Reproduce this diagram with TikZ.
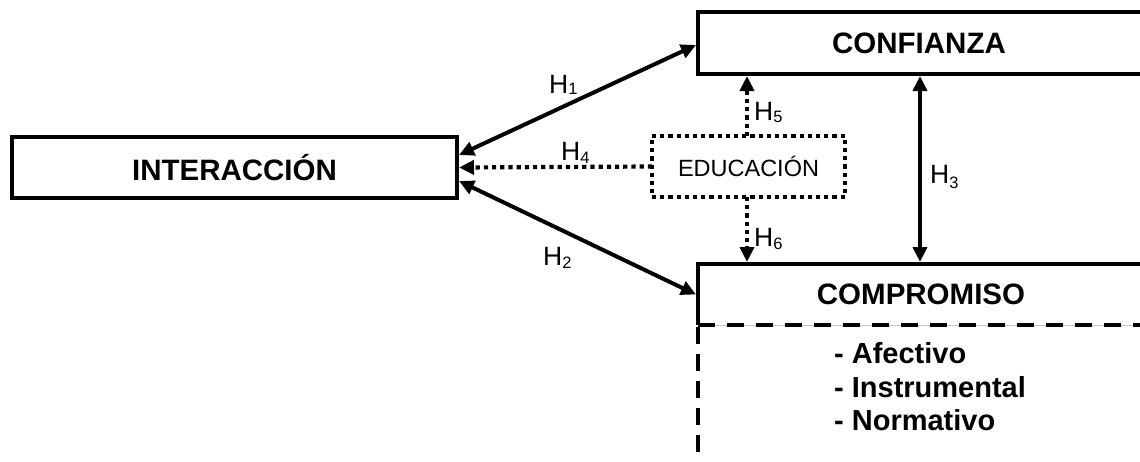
\documentclass[tikz,border=0pt]{standalone}
\usepackage{fontspec}
\setmainfont{Liberation Sans}
\usetikzlibrary{arrows.meta,calc}
\newcommand{\Hlab}[2][3pt]{H\raisebox{-#1}{\fontsize{16.5}{17}\selectfont #2}}
\begin{document}
\begin{tikzpicture}[x=1pt,y=-1pt,
  box/.style={inner sep=0pt,outer sep=0pt,font=\fontsize{29.5}{34}\selectfont\bfseries},
  edge/.style={line width=4pt},
  tip/.style={-{Triangle[length=15pt,width=14pt]}},
  both/.style={{Triangle[length=15pt,width=14pt]}-{Triangle[length=15pt,width=14pt]}},
  dots/.style={line width=4.2pt,dash pattern=on 4.2pt off 4pt},
  hlab/.style={anchor=base west,inner sep=0pt,font=\fontsize{26.5}{30}\selectfont},
  item/.style={anchor=base west,inner sep=0pt,font=\fontsize{29}{33}\selectfont\bfseries}
]
\useasboundingbox (0,0) rectangle (1140,461);
\begin{scope}
\clip (0,0) rectangle (1140,461);
% boxes
\node[box,draw,edge,minimum width=445pt,minimum height=61pt] (inter) at (234.5,167.5) {INTERACCIÓN};
\node[box,minimum width=442pt,minimum height=62pt] (conf) at (919,43) {CONFIANZA};
\node[box,minimum width=442pt,minimum height=61pt] (comp) at (919,294.5) {};
\node[box] (comptext) at (921,294.5) {COMPROMISO};
\node[inner sep=0pt,outer sep=0pt,draw,dots,minimum width=193pt,minimum height=61pt,font=\fontsize{23.5}{28}\selectfont] (edu) at (748.5,166.5) {EDUCACIÓN};
\draw[edge] ($(conf.north east)+(10,0)$) -- (conf.north west) -- (conf.south west) -- ($(conf.south east)+(10,0)$);
\draw[edge] ($(comp.north east)+(10,0)$) -- (comp.north west) -- (comp.south west);
\draw[gray!45,line width=0.6pt] (comp.south west) -- ($(comp.south east)+(10,0)$);
\draw[edge,dash pattern=on 17pt off 12pt] (comp.south west) -- ($(comp.south east)+(10,0)$);
\draw[edge,dash pattern=on 17pt off 10pt] ($(comp.south west)+(0,2)$) -- ++(0,128);
% list
\node[item] (li1) at (834,363) {- Afectivo};
\node[item] (li2) at (834,397) {- Instrumental};
\node[item] (li3) at (834,430) {- Normativo};
% connectors
\draw[edge,both] ($(inter.east)+(2,-12.5)$) -- ($(conf.west)+(-2,2)$);
\draw[edge,both] ($(inter.east)+(2,13.5)$) -- ($(comp.west)+(-2,0)$);
\draw[dots,tip] (edu.west) -- ($(inter.east)+(2,0)$);
\draw[dots,tip] ($(edu.north)+(-1.5,0)$) -- ($(conf.south west)+(49,2)$);
\draw[dots,tip] ($(edu.south)+(-1.5,0)$) -- ($(comp.north west)+(49,-2)$);
\draw[edge,both] ($(conf.south)+(1,2)$) -- ($(comp.north)+(1,-2)$);
% labels
\node[hlab] (h1) at (549,93) {\Hlab[1pt]{1}};
\node[hlab] (h4) at (561,160) {\Hlab{4}};
\node[hlab] (h2) at (543,265) {\Hlab{2}};
\node[hlab] (h5) at (754,120) {\Hlab[2pt]{5}};
\node[hlab] (h6) at (754,246) {\Hlab{6}};
\node[hlab] (h3) at (930,183) {\Hlab[5pt]{3}};
\end{scope}
\end{tikzpicture}
\end{document}
